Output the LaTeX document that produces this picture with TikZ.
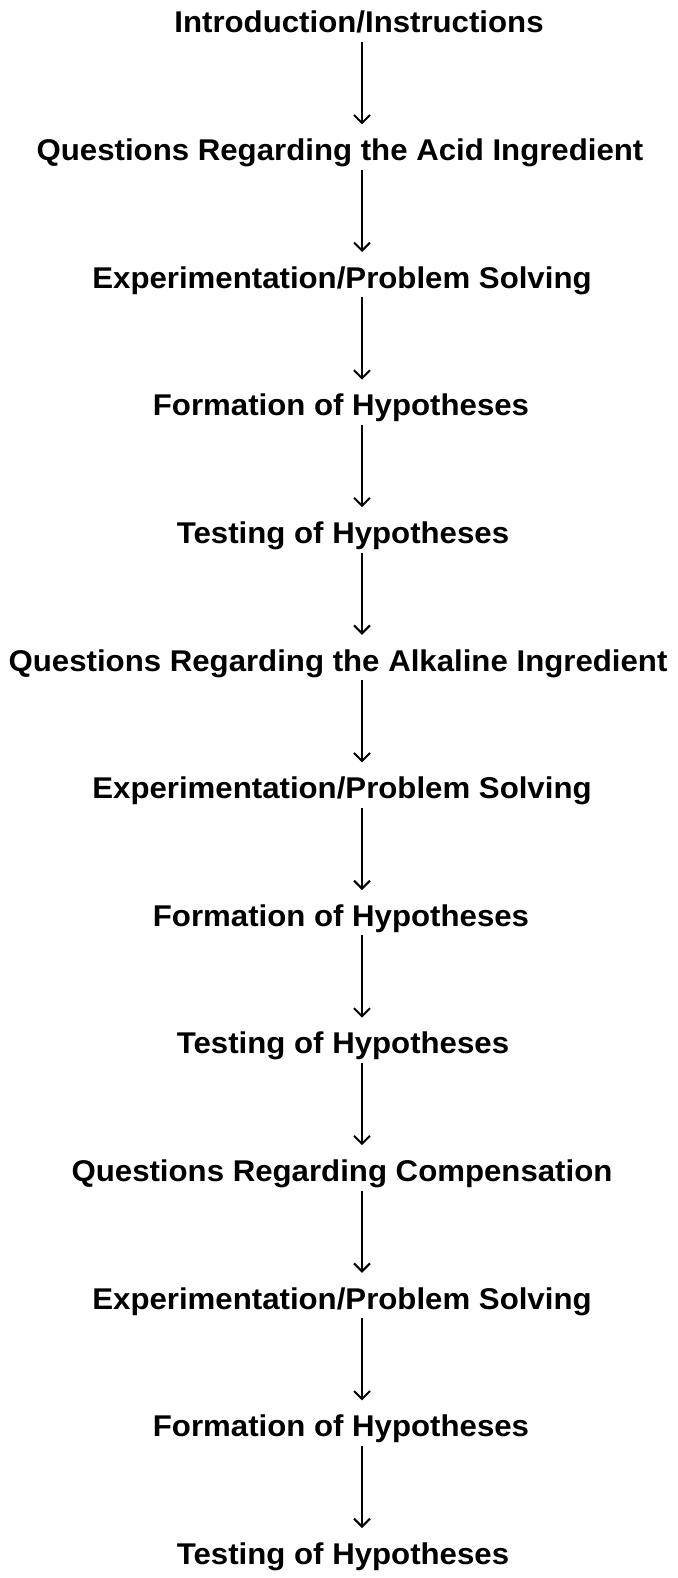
\documentclass[tikz,border=0pt]{standalone}
\usepackage{fontspec}
\newfontfamily\stagefont{Liberation Sans}[FakeStretch=1.04]
\usetikzlibrary{arrows.meta}
\tikzset{
  stage/.style={font=\stagefont\fontsize{30}{36}\selectfont\bfseries, text height=22pt, text depth=7pt,
                inner sep=0pt, anchor=base},
  flow/.style={-{Straight Barb[length=8pt,width=16pt]}, line width=2pt, shorten <=2pt, shorten >=14pt},
}
\begin{document}
\begin{tikzpicture}[x=1pt,y=-1pt]
\useasboundingbox (0,0) rectangle (677,1578);
\coordinate (ax) at (362,0);
\node[stage] (intro) at (359,33) {Introduction/Instructions};
\node[stage] (acidq) at (340,160.6) {Questions Regarding the Acid Ingredient};
\node[stage] (expa) at (342,288.2) {Experimentation/Problem Solving};
\node[stage] (forma) at (341,415.8) {Formation of Hypotheses};
\node[stage] (testa) at (343,543.4) {Testing of Hypotheses};
\node[stage] (alkq) at (338,671) {Questions Regarding the Alkaline Ingredient};
\node[stage] (expb) at (342,798.6) {Experimentation/Problem Solving};
\node[stage] (formb) at (341,926.2) {Formation of Hypotheses};
\node[stage] (testb) at (343,1053.8) {Testing of Hypotheses};
\node[stage] (compq) at (342,1181.4) {Questions Regarding Compensation};
\node[stage] (expc) at (342,1309) {Experimentation/Problem Solving};
\node[stage] (formc) at (341,1436.6) {Formation of Hypotheses};
\node[stage] (testc) at (343,1564.2) {Testing of Hypotheses};
\draw[flow] (intro.south -| ax) -- (acidq.north -| ax);
\draw[flow] (acidq.south -| ax) -- (expa.north -| ax);
\draw[flow] (expa.south -| ax) -- (forma.north -| ax);
\draw[flow] (forma.south -| ax) -- (testa.north -| ax);
\draw[flow] (testa.south -| ax) -- (alkq.north -| ax);
\draw[flow] (alkq.south -| ax) -- (expb.north -| ax);
\draw[flow] (expb.south -| ax) -- (formb.north -| ax);
\draw[flow] (formb.south -| ax) -- (testb.north -| ax);
\draw[flow] (testb.south -| ax) -- (compq.north -| ax);
\draw[flow] (compq.south -| ax) -- (expc.north -| ax);
\draw[flow] (expc.south -| ax) -- (formc.north -| ax);
\draw[flow] (formc.south -| ax) -- (testc.north -| ax);
\end{tikzpicture}
\end{document}
